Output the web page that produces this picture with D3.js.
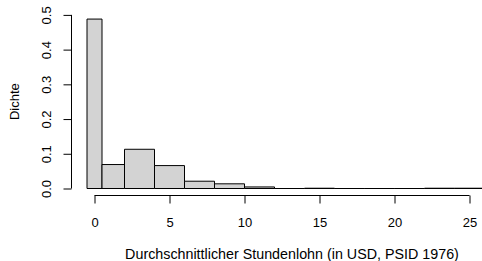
<!DOCTYPE html>
<html>
<head>
<meta charset="utf-8">
<script src="https://cdn.jsdelivr.net/npm/d3@7"></script>
<style>
  body { margin: 0; background: #fff; }
  svg text { font-family: "Liberation Sans", Arial, sans-serif; font-size: 13px; fill: #000; }
</style>
</head>
<body>
<div id="chart"></div>
<script>
'use strict';

// bin edges (USD) and density of each bin
const breaks = [-0.5, 0.5, 2, 4, 6, 8, 10, 12, 14, 16, 18, 20, 22, 24, 26];
const density = [0.488, 0.069, 0.113, 0.066, 0.021, 0.0135, 0.0045, 0, 0.0008, 0, 0, 0, 0.0008, 0.0008];
const xTicks = [0, 5, 10, 15, 20, 25];
const yTicks = [0, 0.1, 0.2, 0.3, 0.4, 0.5];
const xTitle = 'Durchschnittlicher Stundenlohn (in USD, PSID 1976)';
const yTitle = 'Dichte';

const width = 482, height = 261;

const bins = density.map((d, i) => ({ x0: breaks[i], x1: breaks[i + 1], d: d }));

const x = d3.scaleLinear().domain([0, 25]).range([94.5, 469.5]);
const y = d3.scaleLinear().domain([0, 0.5]).range([188.5, 14.9]);

const svg = d3.select('#chart').append('svg')
  .attr('width', width)
  .attr('height', height);

// paths rather than rects so that empty bins still show their outline (as R does)
const barPath = (b) => {
  const x0 = x(b.x0), x1 = x(b.x1), y0 = y(0), y1 = y(b.d);
  return `M${x0},${y0}V${y1}H${x1}V${y0}Z`;
};

svg.append('g').selectAll('path')
  .data(bins)
  .enter().append('path')
  .attr('d', barPath)
  .attr('fill', '#d3d3d3')
  .attr('stroke', '#000')
  .attr('stroke-width', 1);

// x axis, R style: line spans first to last tick, offset below plot
const xAxis = svg.append('g')
  .attr('transform', 'translate(0,195.5)')
  .call(d3.axisBottom(x).tickValues(xTicks).tickSize(8).tickPadding(14).tickFormat(d3.format('d')));
xAxis.select('.domain').attr('d', `M${x(0)},0H${x(25)}`);
xAxis.selectAll('text').style('font-size', '13px');

const yAxis = svg.append('g')
  .attr('transform', 'translate(71.5,0)')
  .call(d3.axisLeft(y).tickValues(yTicks).tickSize(8).tickFormat(d3.format('.1f')));
yAxis.select('.domain').attr('d', `M0,${y(0)}V${y(0.5)}`);
yAxis.selectAll('.tick text')
  .attr('x', null).attr('dy', null)
  .attr('text-anchor', 'middle')
  .attr('transform', 'translate(-21,0) rotate(-90)')
  .style('font-size', '13px');

svg.selectAll('.domain, .tick line').attr('stroke', '#000');

svg.append('text')
  .attr('x', 292)
  .attr('y', 259)
  .attr('text-anchor', 'middle')
  .style('font-size', '14.3px')
  .text(xTitle);

svg.append('text')
  .attr('transform', `translate(19,${(y(0) + y(0.5)) / 2}) rotate(-90)`)
  .attr('text-anchor', 'middle')
  .text(yTitle);
</script>
</body>
</html>
